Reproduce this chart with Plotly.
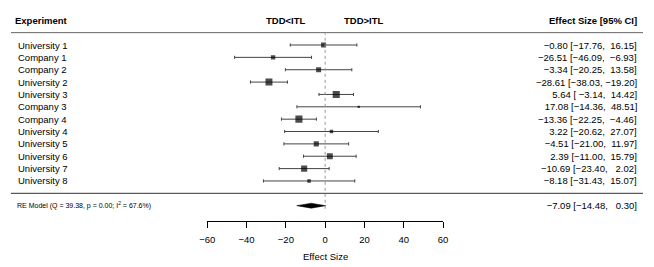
import numpy as np
import plotly.graph_objects as go

# ---------------- data ----------------
studies = ["University 1", "Company 1", "Company 2", "University 2", "University 3",
           "Company 3", "Company 4", "University 4", "University 5", "University 6",
           "University 7", "University 8"]
estimates = [-0.80, -26.51, -3.34, -28.61, 5.64, 17.08, -13.36, 3.22, -4.51, 2.39, -10.69, -8.18]
ci_lower = [-17.76, -46.09, -20.25, -38.03, -3.14, -14.36, -22.25, -20.62, -21.00, -11.00, -23.40, -31.43]
ci_upper = [16.15, -6.93, 13.58, -19.20, 14.42, 48.51, -4.46, 27.07, 11.97, 15.79, 2.02, 15.07]
re_estimate = -7.09
re_lower = -14.48
re_upper = 0.30
re_q = 39.38
re_p = 0.00
re_i2 = 67.6
tick_values = [-60, -40, -20, 0, 20, 40, 60]
side_labels = ["TDD&lt;ITL", "TDD&gt;ITL"]
side_label_x = [-20, 20]

# ---------------- layout constants ----------------
W, H = 654, 267
OFF = 8               # page body margin: window px -> figure px
FONT = "Liberation Sans, Arial, Helvetica, sans-serif"
FS = 9.5
ROW_PX = 12.36        # pixels between rows
TOP_ROW_PX = 45 - OFF  # figure pixel y of the first study row
k = len(studies)
rows = np.arange(k, 0, -1)          # metafor style rows: k..1
re_row = -1
y_range = [k - (H - TOP_ROW_PX) / ROW_PX, k + TOP_ROW_PX / ROW_PX]
NB = "\u00a0"


def px(x):
    return (x - OFF) / W


def py(y):
    return 1 - (y - OFF) / H


def fmt(v, width=0):
    s = f"{v:.2f}".rjust(width)
    return s.replace("-", "\u2212").replace(" ", NB)


def ci_text(e, l, u):
    return f"{fmt(e, 6)}{NB}[{fmt(l, 6)},{NB}{fmt(u, 6)}]"


est = np.array(estimates)
lb = np.array(ci_lower)
ub = np.array(ci_upper)

# random-effects weights (DerSimonian-Laird) -> marker sizes
vi = ((ub - lb) / (2 * 1.96)) ** 2
wi = 1 / vi
tau2 = max(0.0, (re_q - (k - 1)) / (wi.sum() - (wi ** 2).sum() / wi.sum()))
wr = 1 / (vi + tau2)
sizes = 2.3 + (wr - wr.min()) / (wr.max() - wr.min()) * 4.8

fig = go.Figure()

# study estimates with CIs
fig.add_trace(go.Scatter(
    x=est, y=rows, mode="markers",
    marker=dict(symbol="square", size=sizes, color="black", line=dict(width=0)),
    error_x=dict(type="data", symmetric=False, array=ub - est, arrayminus=est - lb,
                 color="#444444", thickness=1, width=1.6),
    hoverinfo="skip", showlegend=False,
))

# summary diamond
h = 0.2
fig.add_trace(go.Scatter(
    x=[re_lower, re_estimate, re_upper, re_estimate, re_lower],
    y=[re_row, re_row + h, re_row, re_row - h, re_row],
    mode="lines", fill="toself", fillcolor="black",
    line=dict(color="black", width=0.5), hoverinfo="skip", showlegend=False,
))

shapes = [
    dict(type="line", xref="paper", yref="y", x0=px(11), x1=px(643), y0=k + 1, y1=k + 1,
         line=dict(color="#666666", width=1)),
    dict(type="line", xref="paper", yref="y", x0=px(11), x1=px(643), y0=0, y1=0,
         line=dict(color="#333333", width=1)),
    dict(type="line", xref="x", yref="y", x0=0, x1=0, y0=re_row - 0.25, y1=k + 1,
         line=dict(color="#999999", width=1, dash="dot")),
]

RIGHT_X = px(639)
ann = []
# headers
ann.append(dict(text="<b>Experiment</b>", xref="paper", yref="y", x=px(13.3), y=k + 2,
                xanchor="left", yanchor="middle", showarrow=False, font=dict(size=FS)))
ann.append(dict(text="<b>Effect Size [95% CI]</b>", xref="paper", yref="y", x=RIGHT_X, y=k + 2,
                xanchor="right", yanchor="middle", showarrow=False, font=dict(size=FS)))
for lab, lx in zip(side_labels, side_label_x):
    ann.append(dict(text=f"<b>{lab}</b>", xref="x", yref="y", x=lx, y=k + 2,
                    xanchor="center", yanchor="middle", showarrow=False, font=dict(size=FS)))

# study labels and numbers
for r, name, e, l, u in zip(rows, studies, est, lb, ub):
    ann.append(dict(text=name, xref="paper", yref="y", x=px(15.7), y=r,
                    xanchor="left", yanchor="middle", showarrow=False, font=dict(size=FS)))
    ann.append(dict(text=ci_text(e, l, u), xref="paper", yref="y", x=RIGHT_X, y=r,
                    xanchor="right", yanchor="middle", showarrow=False, font=dict(size=FS)))

# summary row
ann.append(dict(text=f"RE Model (Q = {re_q:.2f}, p = {re_p:.2f}; I<sup>2</sup> = {re_i2:.1f}%)",
                xref="paper", yref="y", x=px(14.7), y=re_row, xanchor="left", yanchor="middle",
                showarrow=False, font=dict(size=7)))
ann.append(dict(text=ci_text(re_estimate, re_lower, re_upper), xref="paper", yref="y",
                x=RIGHT_X, y=re_row, xanchor="right", yanchor="middle", showarrow=False,
                font=dict(size=FS)))

# axis title
ann.append(dict(text="Effect Size", xref="x", yref="paper", x=0, y=py(256),
                xanchor="center", yanchor="middle", showarrow=False, font=dict(size=FS)))

fig.update_layout(
    template="none",
    width=W, height=H, autosize=False,
    margin=dict(l=0, r=0, t=0, b=0, pad=0, autoexpand=False),
    paper_bgcolor="white", plot_bgcolor="white",
    font=dict(family=FONT, color="black", size=FS),
    showlegend=False,
    shapes=shapes,
    annotations=ann,
    xaxis=dict(
        domain=[px(207.3), px(443)], range=[-60, 60],
        anchor="free", position=py(220.5), automargin=False,
        showline=True, linecolor="black", linewidth=1,
        ticks="outside", ticklen=6, tickwidth=1, tickcolor="black",
        ticklabelstandoff=4,
        tickvals=tick_values, ticktext=[fmt(t).replace(".00", "") for t in tick_values],
        tickfont=dict(size=FS), showgrid=False, zeroline=False, fixedrange=True,
    ),
    yaxis=dict(domain=[0, 1], range=y_range, visible=False, showgrid=False,
               zeroline=False, fixedrange=True, automargin=False),
)

fig.write_html("out.html")
